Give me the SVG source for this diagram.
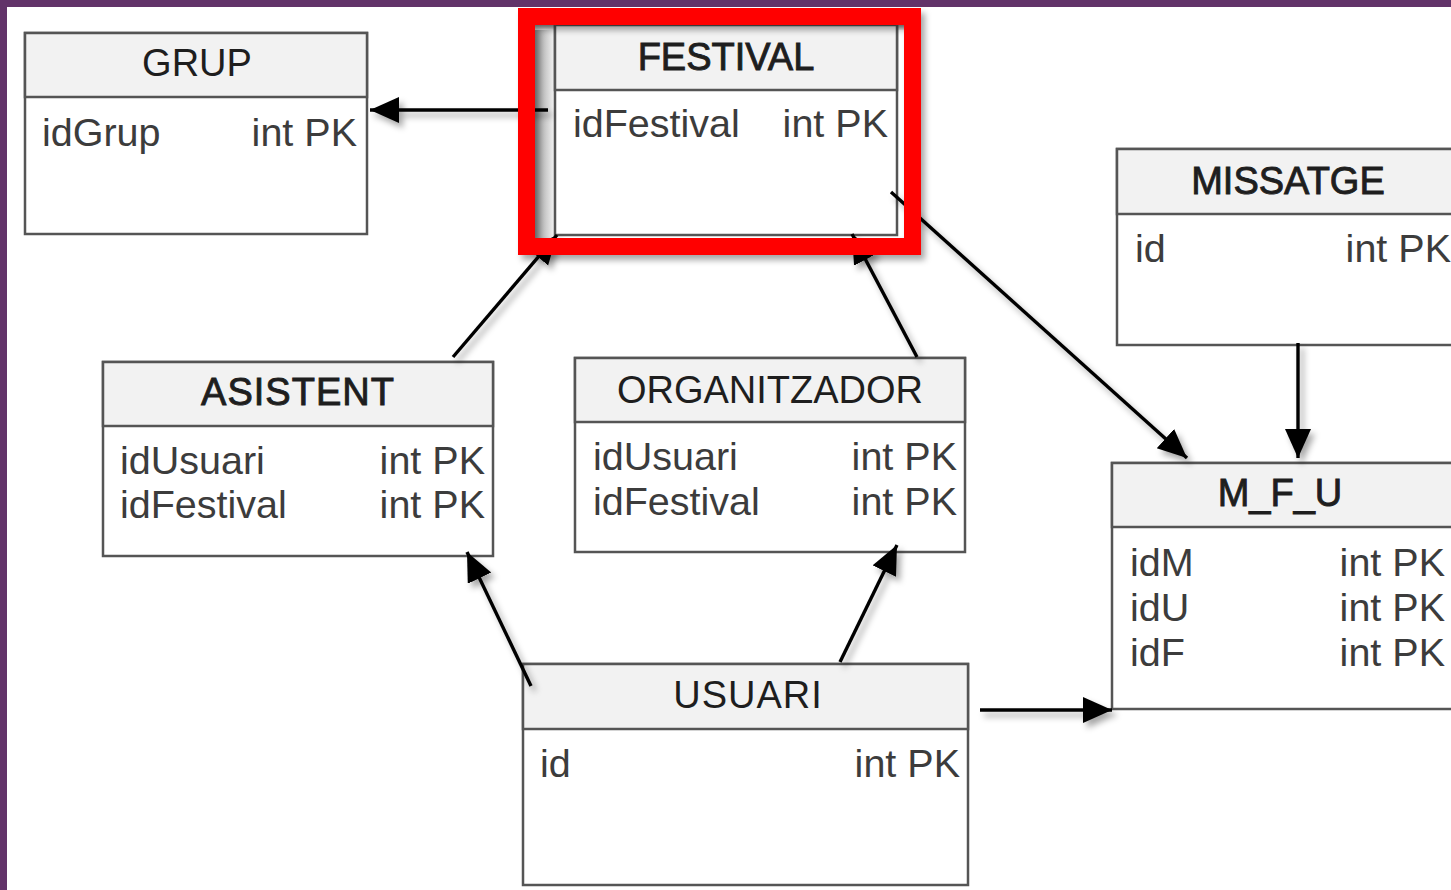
<svg xmlns="http://www.w3.org/2000/svg" width="1451" height="890" viewBox="0 0 1451 890">
<style>
.box{fill:#ffffff;stroke:#555555;stroke-width:2.5}
.hdr{fill:#f2f2f2;stroke:#555555;stroke-width:2.5}
.title{font-family:"Liberation Sans",Arial,sans-serif;font-size:38px;fill:#1e1e1e;text-anchor:middle}
.tb{stroke:#1e1e1e;stroke-width:0.9}
.f{font-family:"Liberation Sans",Arial,sans-serif;font-size:39.5px;fill:#3c3c3c}
.r{text-anchor:end}
.conn{fill:none;stroke:#000000;stroke-width:3.4}
</style>
<defs>
<marker id="arr" markerUnits="userSpaceOnUse" markerWidth="32" markerHeight="28" refX="29" refY="13" orient="auto">
<path d="M0,0 L29,13 L0,26 Z" fill="#000000"/>
</marker>
<filter id="sh" x="-20%" y="-20%" width="150%" height="150%">
<feDropShadow dx="4" dy="5" stdDeviation="3" flood-color="#000000" flood-opacity="0.35"/>
</filter>
<linearGradient id="inL" x1="0" y1="0" x2="1" y2="0">
<stop offset="0" stop-color="#9a9a9a"/>
<stop offset="1" stop-color="#f6f6f6"/>
</linearGradient>
<linearGradient id="inT" x1="0" y1="0" x2="0" y2="1">
<stop offset="0" stop-color="#9a9a9a"/>
<stop offset="1" stop-color="#f2f2f2"/>
</linearGradient>
</defs>
<rect x="0" y="0" width="1451" height="890" fill="#ffffff"/>
<rect x="0" y="0" width="1451" height="7" fill="#623369"/>
<rect x="0" y="0" width="7" height="890" fill="#623369"/>

<g id="grup">
<rect class="box" x="25" y="33" width="342" height="201"/>
<rect class="hdr" x="25" y="33" width="342" height="64"/>
<text class="title" x="197" y="76">GRUP</text>
<text class="f" x="42" y="146">idGrup</text>
<text class="f r" x="357" y="146">int PK</text>
</g>

<g id="festival">
<rect x="535" y="25" width="20" height="213" fill="url(#inL)"/>
<rect x="535" y="25" width="369" height="5" fill="url(#inT)"/>
<rect class="box" x="555" y="25" width="342" height="210"/>
<rect class="hdr" x="555" y="25" width="342" height="65"/>
<text class="title tb" x="726" y="70">FESTIVAL</text>
<text class="f" x="573" y="137">idFestival</text>
<text class="f r" x="888" y="137">int PK</text>
</g>

<g id="missatge">
<rect class="box" x="1117" y="149" width="345" height="196"/>
<rect class="hdr" x="1117" y="149" width="345" height="65"/>
<text class="title tb" x="1288" y="194">MISSATGE</text>
<text class="f" x="1135" y="262">id</text>
<text class="f r" x="1451" y="262">int PK</text>
</g>

<g id="mfu">
<rect class="box" x="1112" y="463" width="345" height="246"/>
<rect class="hdr" x="1112" y="463" width="345" height="64"/>
<text class="title tb" x="1280" y="506">M_F_U</text>
<text class="f" x="1130" y="576">idM</text>
<text class="f r" x="1445" y="576">int PK</text>
<text class="f" x="1130" y="621">idU</text>
<text class="f r" x="1445" y="621">int PK</text>
<text class="f" x="1130" y="666">idF</text>
<text class="f r" x="1445" y="666">int PK</text>
</g>

<g id="asistent">
<rect class="box" x="103" y="362" width="390" height="194"/>
<rect class="hdr" x="103" y="362" width="390" height="64"/>
<text class="title tb" x="298" y="405" letter-spacing="1">ASISTENT</text>
<text class="f" x="120" y="474">idUsuari</text>
<text class="f r" x="485" y="474">int PK</text>
<text class="f" x="120" y="518">idFestival</text>
<text class="f r" x="485" y="518">int PK</text>
</g>

<g id="organitzador">
<rect class="box" x="575" y="358" width="390" height="194"/>
<rect class="hdr" x="575" y="358" width="390" height="64"/>
<text class="title" x="770" y="403">ORGANITZADOR</text>
<text class="f" x="593" y="470">idUsuari</text>
<text class="f r" x="957" y="470">int PK</text>
<text class="f" x="593" y="515">idFestival</text>
<text class="f r" x="957" y="515">int PK</text>
</g>

<g id="usuari">
<rect class="box" x="523" y="664" width="445" height="221"/>
<rect class="hdr" x="523" y="664" width="445" height="65"/>
<text class="title" x="748" y="708" letter-spacing="1">USUARI</text>
<text class="f" x="540" y="777">id</text>
<text class="f r" x="960" y="777">int PK</text>
</g>

<g id="connectors" filter="url(#sh)">
<line class="conn" x1="548" y1="110" x2="370" y2="110" marker-end="url(#arr)"/>
<line class="conn" x1="453" y1="357" x2="557" y2="235" marker-end="url(#arr)"/>
<line class="conn" x1="917" y1="357" x2="852" y2="234" marker-end="url(#arr)"/>
<line class="conn" x1="891" y1="192" x2="1187" y2="458" marker-end="url(#arr)"/>
<line class="conn" x1="1298" y1="343" x2="1298" y2="458" marker-end="url(#arr)"/>
<line class="conn" x1="531" y1="686" x2="467" y2="552" marker-end="url(#arr)"/>
<line class="conn" x1="840" y1="662" x2="897" y2="545" marker-end="url(#arr)"/>
<line class="conn" x1="980" y1="710" x2="1112" y2="710" marker-end="url(#arr)"/>
</g>

<g id="highlight" filter="url(#sh)">
<rect x="526.5" y="16.5" width="386" height="230" fill="none" stroke="#ff0000" stroke-width="17"/>
</g>
</svg>
